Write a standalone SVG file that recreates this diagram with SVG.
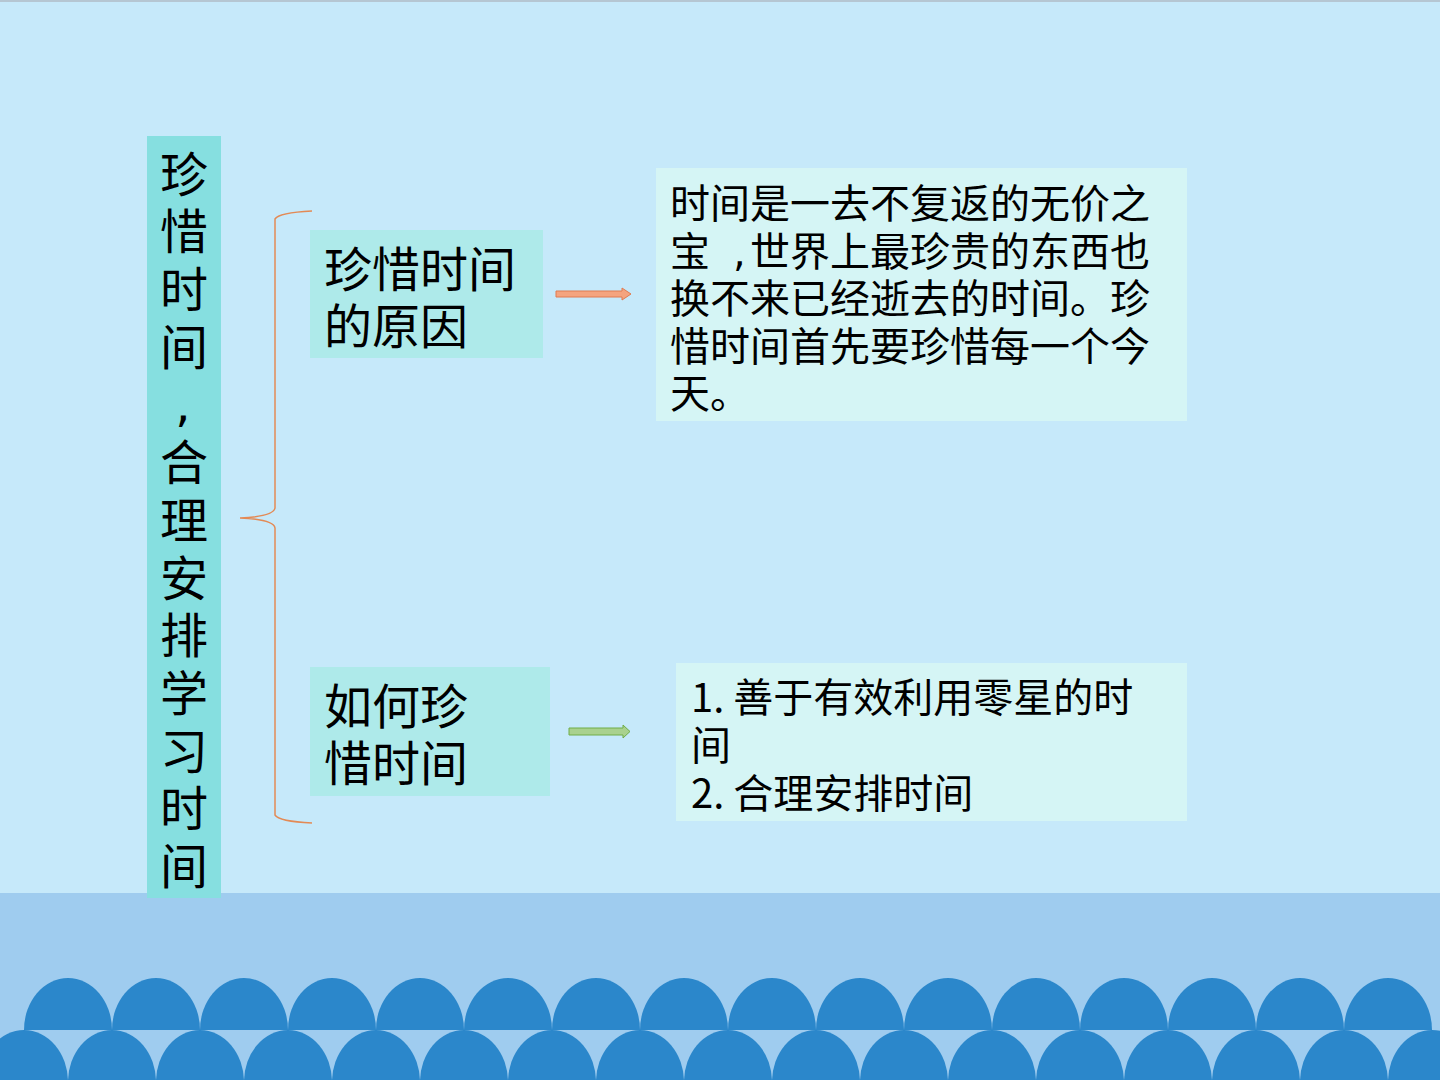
<svg xmlns="http://www.w3.org/2000/svg" width="1440" height="1080" viewBox="0 0 1440 1080">
<style>
.t{font-family:"Noto Sans CJK SC","Noto Sans",sans-serif;fill:#000;}
.lat{font-family:"DejaVu Sans",sans-serif;}
.wave{fill:#2B87CB;}
.brace{fill:none;stroke:#E38A55;stroke-width:1.5;}
</style>
<rect x="0" y="0" width="1440" height="1080" fill="#C6E9FA"/>
<rect x="0" y="0" width="1440" height="2" fill="#B5C6D2"/>
<rect x="0" y="893" width="1440" height="187" fill="#9FCCEF"/>
<g id="waves">
<g class="wave">
<path d="M24,1030 A44,52 0 0 1 112,1030 Z"/>
<path d="M112,1030 A44,52 0 0 1 200,1030 Z"/>
<path d="M200,1030 A44,52 0 0 1 288,1030 Z"/>
<path d="M288,1030 A44,52 0 0 1 376,1030 Z"/>
<path d="M376,1030 A44,52 0 0 1 464,1030 Z"/>
<path d="M464,1030 A44,52 0 0 1 552,1030 Z"/>
<path d="M552,1030 A44,52 0 0 1 640,1030 Z"/>
<path d="M640,1030 A44,52 0 0 1 728,1030 Z"/>
<path d="M728,1030 A44,52 0 0 1 816,1030 Z"/>
<path d="M816,1030 A44,52 0 0 1 904,1030 Z"/>
<path d="M904,1030 A44,52 0 0 1 992,1030 Z"/>
<path d="M992,1030 A44,52 0 0 1 1080,1030 Z"/>
<path d="M1080,1030 A44,52 0 0 1 1168,1030 Z"/>
<path d="M1168,1030 A44,52 0 0 1 1256,1030 Z"/>
<path d="M1256,1030 A44,52 0 0 1 1344,1030 Z"/>
<path d="M1344,1030 A44,52 0 0 1 1432,1030 Z"/>
<ellipse cx="24" cy="1082" rx="44" ry="52"/>
<ellipse cx="112" cy="1082" rx="44" ry="52"/>
<ellipse cx="200" cy="1082" rx="44" ry="52"/>
<ellipse cx="288" cy="1082" rx="44" ry="52"/>
<ellipse cx="376" cy="1082" rx="44" ry="52"/>
<ellipse cx="464" cy="1082" rx="44" ry="52"/>
<ellipse cx="552" cy="1082" rx="44" ry="52"/>
<ellipse cx="640" cy="1082" rx="44" ry="52"/>
<ellipse cx="728" cy="1082" rx="44" ry="52"/>
<ellipse cx="816" cy="1082" rx="44" ry="52"/>
<ellipse cx="904" cy="1082" rx="44" ry="52"/>
<ellipse cx="992" cy="1082" rx="44" ry="52"/>
<ellipse cx="1080" cy="1082" rx="44" ry="52"/>
<ellipse cx="1168" cy="1082" rx="44" ry="52"/>
<ellipse cx="1256" cy="1082" rx="44" ry="52"/>
<ellipse cx="1344" cy="1082" rx="44" ry="52"/>
<ellipse cx="1432" cy="1082" rx="44" ry="52"/>
</g>
</g>
<g id="title">
<rect x="147" y="136" width="74" height="762" fill="#86DFE0"/>
<text class="t" font-size="48" text-anchor="middle"><tspan x="184" y="191.7">珍</tspan><tspan x="184" y="249.4">惜</tspan><tspan x="184" y="307.1">时</tspan><tspan x="184" y="364.8">间</tspan><tspan x="183" y="420.6" class="lat">,</tspan><tspan x="184" y="480.2">合</tspan><tspan x="184" y="537.9">理</tspan><tspan x="184" y="595.6">安</tspan><tspan x="184" y="653.3">排</tspan><tspan x="184" y="711">学</tspan><tspan x="184" y="768.7">习</tspan><tspan x="184" y="826.4">时</tspan><tspan x="184" y="884.1">间</tspan></text>
</g>
<g id="connectors">
<path class="brace" d="M312,211 C292,212 278,214 275,219 L275,508 C274,514 262,517 240,518 C262,519 274,522 275,528 L275,815 C278,820 292,822 312,823"/>
<path d="M556,291 L622,291 L622,288 L631,294 L622,300 L622,297 L556,297 Z" fill="#F4A47F" stroke="#E07B50" stroke-width="1"/>
<path d="M569,728 L623,728 L623,725 L630,731.5 L623,738 L623,735 L569,735 Z" fill="#A9D18E" stroke="#70AD47" stroke-width="1"/>
</g>
<g id="node-reason">
<rect x="310" y="230" width="233" height="128" fill="#AEEAEA"/>
<text class="t" font-size="48"><tspan x="324" y="287">珍惜时间</tspan><tspan x="324" y="343.5">的原因</tspan></text>
</g>
<g id="node-how">
<rect x="310" y="667" width="240" height="129" fill="#AEEAEA"/>
<text class="t" font-size="48"><tspan x="324" y="724">如何珍</tspan><tspan x="324" y="781">惜时间</tspan></text>
</g>
<g id="detail-reason">
<rect x="656" y="168" width="531" height="253" fill="#D5F5F5"/>
<text class="t" font-size="40"><tspan x="670" y="218">时间是一去不复返的无价之</tspan><tspan x="670" y="265.5">宝</tspan><tspan x="733" y="265.5" class="lat">,</tspan><tspan x="750" y="265.5">世界上最珍贵的东西也</tspan><tspan x="670" y="313">换不来已经逝去的时间。珍</tspan><tspan x="670" y="360.5">惜时间首先要珍惜每一个今</tspan><tspan x="670" y="408">天。</tspan></text>
</g>
<g id="detail-how">
<rect x="676" y="663" width="511" height="158" fill="#D5F5F5"/>
<text class="t" font-size="40"><tspan x="691" y="712">1. 善于有效利用零星的时</tspan><tspan x="691" y="760">间</tspan><tspan x="691" y="808">2. 合理安排时间</tspan></text>
</g>
</svg>
